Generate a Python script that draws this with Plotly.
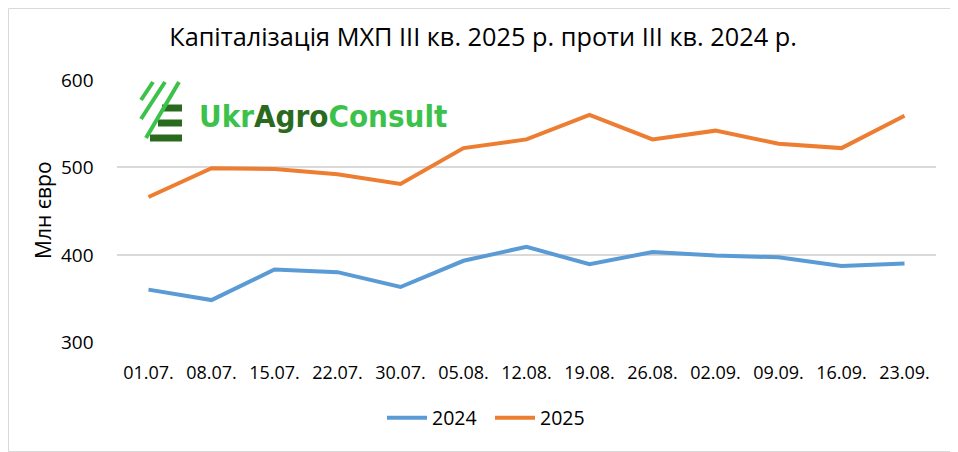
import plotly.graph_objects as go

# Data
dates = ["01.07.", "08.07.", "15.07.", "22.07.", "30.07.", "05.08.", "12.08.",
         "19.08.", "26.08.", "02.09.", "09.09.", "16.09.", "23.09."]
cap_2024 = [360, 348, 383, 380, 363, 393, 409, 389, 403, 399, 397, 387, 390]
cap_2025 = [466, 499, 498, 492, 481, 522, 532, 560, 532, 542, 527, 522, 559]
y_ticks = [300, 400, 500, 600]

# page has an 8px body margin, so the figure is shifted by OFF
OFF = 8
W, H = 958 - OFF, 452 - OFF
ML, MT = 117 - OFF, 80 - OFF
MR = W - (936 - OFF)
MB = H - (342 - OFF)
pw, ph = W - ML - MR, H - MT - MB


# page pixel -> paper coords
def px(x):
    return (x - OFF - ML) / pw


def py(y):
    return (H - MB - (y - OFF)) / ph


fig = go.Figure()
fig.add_trace(go.Scatter(x=dates, y=cap_2024, mode="lines", name="2024",
                         line=dict(color="#5b9bd5", width=4)))
fig.add_trace(go.Scatter(x=dates, y=cap_2025, mode="lines", name="2025",
                         line=dict(color="#ed7d31", width=4)))

font = "Open Sans, Liberation Sans, sans-serif"
clear = "rgba(0,0,0,0)"

shapes = [
    # outer border
    dict(type="rect", xref="paper", yref="paper", x0=px(OFF + 0.5), x1=px(957.5),
         y0=py(451.5), y1=py(OFF + 0.5), line=dict(color="#d9d9d9", width=1)),
]
# logo icon: dark bars then light diagonal stripes
for x0, yy in [(162, 108), (158, 123), (150, 138)]:
    shapes.append(dict(type="line", xref="paper", yref="paper",
                       x0=px(x0), x1=px(182), y0=py(yy), y1=py(yy),
                       line=dict(color="#2a6a1e", width=7)))
for x0, y0, x1 in [(141, 100, 153), (141, 119, 165), (146, 138, 179)]:
    shapes.append(dict(type="line", xref="paper", yref="paper",
                       x0=px(x0), x1=px(x1), y0=py(y0), y1=py(82),
                       line=dict(color="#3cc24a", width=4)))

annotations = [
    dict(xref="paper", yref="paper", x=px(43), y=py(210),
         xanchor="center", yanchor="middle", showarrow=False,
         textangle=-90, text="Млн євро", font=dict(size=21)),
    dict(xref="paper", yref="paper", x=px(197), y=py(116),
         xanchor="left", yanchor="middle", showarrow=False,
         text="<b><span style='color:#3cc24a'>Ukr</span>"
              "<span style='color:#2a6a1e'>Agro</span>"
              "<span style='color:#3cc24a'>Consult</span></b>",
         font=dict(family="DejaVu Sans Condensed", size=31)),
]
# y tick labels placed further from the plot than plotly's default
for v in y_ticks:
    annotations.append(dict(xref="paper", yref="y", x=px(96), y=v,
                            xanchor="right", yanchor="middle", showarrow=False,
                            text=str(v), font=dict(size=19)))

fig.update_layout(
    width=W, height=H,
    margin=dict(l=ML, r=MR, t=MT, b=MB),
    paper_bgcolor="white", plot_bgcolor="white",
    font=dict(family=font, size=17, color="#000000"),
    title=dict(text="Капіталізація МХП ІІІ кв. 2025 р. проти ІІІ кв. 2024 р.",
               x=0.5, xanchor="center", y=1 - (37 - OFF) / H, yanchor="middle",
               font=dict(size=25.3, color="#000000")),
    xaxis=dict(type="category", range=[-0.5, 12.5], showgrid=False,
               showline=False, zeroline=False, tickangle=0,
               ticks="outside", ticklen=14, tickcolor=clear,
               tickfont=dict(size=18)),
    yaxis=dict(range=[300, 600], tickvals=y_ticks,
               showgrid=True, gridcolor="#d9d9d9", gridwidth=1.5,
               zeroline=False, showline=False, ticks="",
               showticklabels=False),
    legend=dict(orientation="h", x=px(490), xanchor="center", y=py(418),
                yanchor="middle", font=dict(size=19.5),
                entrywidth=53, itemwidth=40),
    shapes=shapes,
    annotations=annotations,
)

fig.write_html("out.html")
